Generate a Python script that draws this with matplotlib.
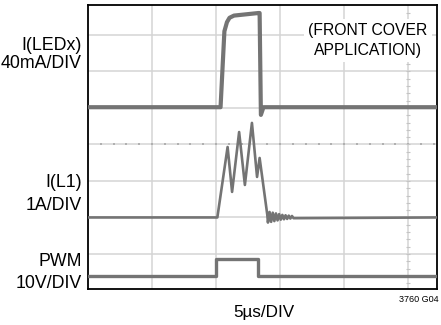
import matplotlib
matplotlib.use("Agg")
import matplotlib.pyplot as plt
import numpy as np

# ---- data (x in time divisions, y in vertical divisions) ----
led_x = [0, 2.07, 2.13, 2.17, 2.21, 2.28, 2.66, 2.68, 2.70, 2.74, 5.45]
led_y = [5.02, 5.02, 7.10, 7.35, 7.47, 7.53, 7.60, 7.60, 4.81, 5.02, 5.02]

l1_x = [0, 2.02, 2.18, 2.25, 2.36, 2.45, 2.56, 2.64, 2.68, 2.80, 2.81,
        2.835, 2.86, 2.885, 2.91, 2.935, 2.96, 2.985, 3.01, 3.035, 3.06,
        3.085, 3.11, 3.135, 3.16, 3.185, 3.21, 5.45]
l1_y = [2.0, 2.0, 3.93, 2.70, 4.34, 2.89, 4.59, 3.11, 3.63, 2.07, 1.86,
        2.15, 1.88, 2.13, 1.90, 2.11, 1.92, 2.09, 1.94, 2.07, 1.95,
        2.06, 1.96, 2.05, 1.97, 2.04, 1.98, 2.0]

pwm_x = [0, 2.0, 2.0, 2.66, 2.66, 5.45]
pwm_y = [0.40, 0.40, 0.855, 0.855, 0.40, 0.40]

x_grid = [1, 2, 3, 4, 5]
y_grid = [1, 2, 3, 4, 5, 6, 7]

labels = [("I(LEDx)", 45), ("40mA/DIV", 64), ("I(L1)", 183), ("1A/DIV", 205),
          ("PWM", 261), ("10V/DIV", 283)]

FONT = ['Liberation Sans', 'DejaVu Sans']
plt.rcParams['font.family'] = FONT

W, H = 441, 325
fig = plt.figure(figsize=(W / 100, H / 100), dpi=100)
fig.patch.set_facecolor('white')
L, R, T, B = 88, 437, 5, 289
ax = fig.add_axes([L / W, 1 - B / H, (R - L) / W, (B - T) / H])
ax.set_xlim(0, 5.45)
ax.set_ylim(0.04, 7.82)
ax.set_xticks(x_grid)
ax.set_yticks(y_grid)
ax.tick_params(length=0, labelbottom=False, labelleft=False)
ax.grid(True, color='#d4d4d4', lw=1.1)
ax.set_axisbelow(True)
for s in ax.spines.values():
    s.set_color('black')
    s.set_linewidth(1.3)

# minor division marks on center lines
mx = np.arange(0.2, 5.45, 0.2)
ax.plot(mx, np.full_like(mx, 4.0), ls='none', marker='s', ms=1.6, color='#b0b0b0', mew=0, zorder=1)
my = np.arange(0.2, 7.8, 0.2)
ax.plot(np.full_like(my, 5.0), my, ls='none', marker='_', ms=3, color='#c4c4c4', mew=0.8, zorder=1)

tc = '#747474'
ax.plot(led_x, led_y, color=tc, lw=3.0, zorder=3)
ax.plot(l1_x, l1_y, color=tc, lw=1.9, zorder=3)
ax.plot(pwm_x, pwm_y, color=tc, lw=2.4, zorder=3)

ax.text((368 - L) / (R - L), 1 - (40.5 - T) / (B - T),
        "(FRONT COVER\nAPPLICATION)", transform=ax.transAxes,
        ha='center', va='center', fontsize=11.3, linespacing=1.35,
        bbox=dict(facecolor='white', edgecolor='none', pad=3), zorder=4)

for txt, py in labels:
    fig.text(82 / W, 1 - py / H, txt, ha='right', va='center', fontsize=12.8)

fig.text(264 / W, 1 - 313 / H, "5µs/DIV", ha='center', va='center', fontsize=12.3)
fig.text(439 / W, 1 - 299 / H, "3760 G04", ha='right', va='center', fontsize=6.5)

fig.savefig('out.png', dpi=100, facecolor='white')
